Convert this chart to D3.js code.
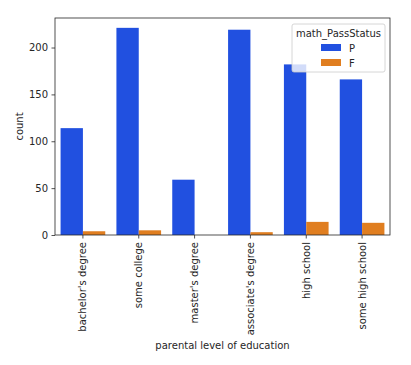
<!DOCTYPE html>
<html>
<head>
<meta charset="utf-8">
<script src="https://cdn.jsdelivr.net/npm/d3@7"></script>
<style>
  body { margin: 0; background: #fff; }
  text { font-family: "DejaVu Sans", sans-serif; fill: #262626; }
</style>
</head>
<body>
<svg width="411" height="365"></svg>
<script>
var categories = ["bachelor's degree", "some college", "master's degree", "associate's degree", "high school", "some high school"];
var statuses = ["P", "F"];
var passCounts = [114, 221, 59, 219, 182, 166];
var failCounts = [4, 5, 0, 3, 14, 13];
var yTicks = [0, 50, 100, 150, 200];
var colors = ["#2150e0", "#e07e20"];

var rows = categories.map(function(c, i) {
  return {cat: c, P: passCounts[i], F: failCounts[i]};
});

var margin = {left: 55, right: 21, top: 18, bottom: 130};
var width = 411 - margin.left - margin.right;
var height = 365 - margin.top - margin.bottom;

var svg = d3.select("svg");
var g = svg.append("g").attr("transform", "translate(" + margin.left + "," + margin.top + ")");

var x = d3.scaleBand().domain(categories).range([0, width]).paddingInner(0.2).paddingOuter(0.1);
var x1 = d3.scaleBand().domain(statuses).range([0, x.bandwidth()]);
var y = d3.scaleLinear().domain([0, 231.5]).range([height, 0]);

g.selectAll("g.cat")
  .data(rows)
  .enter().append("g")
    .attr("class", "cat")
    .attr("transform", function(d) { return "translate(" + x(d.cat) + ",0)"; })
  .selectAll("rect")
  .data(function(d) { return statuses.map(function(s) { return {s: s, v: d[s]}; }); })
  .enter().append("rect")
    .attr("x", function(d) { return x1(d.s); })
    .attr("width", x1.bandwidth())
    .attr("y", function(d) { return y(d.v); })
    .attr("height", function(d) { return height - y(d.v); })
    .attr("fill", function(d, i) { return colors[i]; });

var yAxis = g.append("g").call(d3.axisLeft(y).tickValues(yTicks).tickSize(3.5).tickPadding(3.5));
var xAxis = g.append("g").attr("transform", "translate(0," + height + ")")
  .call(d3.axisBottom(x).tickSize(3.5).tickPadding(3.5));

[xAxis, yAxis].forEach(function(a) {
  a.select(".domain").remove();
  a.selectAll("line").attr("stroke", "#262626").attr("stroke-width", 0.8);
  a.selectAll("text").style("font-size", "10px").attr("fill", "#262626");
});

xAxis.selectAll("text")
  .attr("transform", "rotate(-90)")
  .attr("text-anchor", "end")
  .attr("x", -7)
  .attr("y", 0)
  .attr("dy", "0.35em");

g.append("rect")
  .attr("width", width).attr("height", height)
  .attr("fill", "none").attr("stroke", "#262626").attr("stroke-width", 0.8);

svg.append("text")
  .attr("transform", "translate(23," + (margin.top + height / 2) + ") rotate(-90)")
  .attr("text-anchor", "middle")
  .style("font-size", "10px")
  .text("count");

svg.append("text")
  .attr("x", margin.left + width / 2).attr("y", 349)
  .attr("text-anchor", "middle")
  .style("font-size", "10px")
  .text("parental level of education");

// legend
var lg = svg.append("g").attr("transform", "translate(292,24)");
lg.append("rect")
  .attr("width", 93).attr("height", 48).attr("rx", 2)
  .attr("fill", "#fff").attr("fill-opacity", 0.8)
  .attr("stroke", "#cccccc").attr("stroke-width", 0.8);
lg.append("text").attr("x", 46.5).attr("y", 13).attr("text-anchor", "middle")
  .style("font-size", "10px").text("math_PassStatus");
statuses.forEach(function(s, i) {
  lg.append("rect").attr("x", 29).attr("y", 20 + i * 15).attr("width", 20).attr("height", 7).attr("fill", colors[i]);
  lg.append("text").attr("x", 57).attr("y", 27.5 + i * 15).style("font-size", "10px").text(s);
});
</script>
</body>
</html>
